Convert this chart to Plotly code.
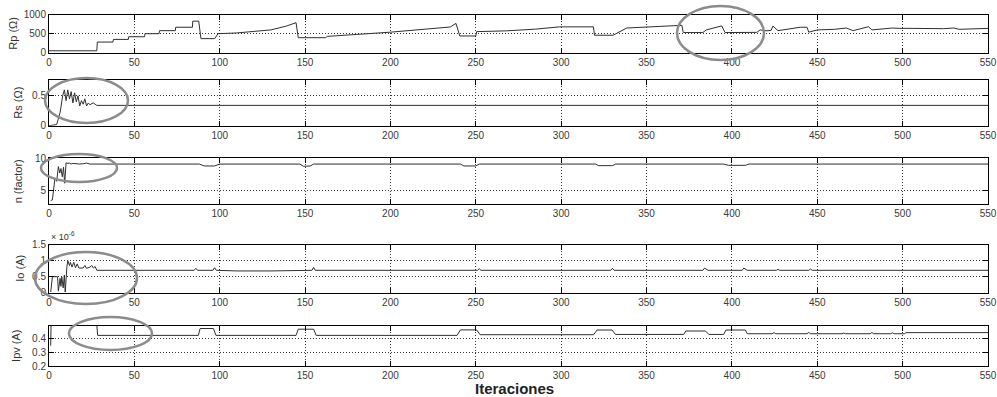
import plotly.graph_objects as go

W, H = 997, 397

# ---------------- data (iteration, value) vertices ----------------
rp_iter = [0, 28, 28.3, 37.5, 37.7, 46.5, 46.7, 56, 56.2, 64.5, 64.7, 74, 74.2, 84, 84.2, 87.7, 89, 97, 99,
           110, 120, 130, 139, 144.7, 146, 162, 163, 175, 182, 190, 200, 213, 225, 235, 238.4, 240.6, 250,
           250.5, 268, 285, 299, 318.9, 319.5, 330.4, 338.4, 364, 370.7, 371.5, 383, 385, 394, 396, 414.6,
           416.5, 420.5, 423, 424, 427, 440, 444, 445, 450, 460, 467, 471, 480, 482, 494, 498, 506, 524,
           530, 533, 550]
rp_vals = [50, 50, 280, 280, 350, 350, 420, 420, 500, 500, 580, 580, 670, 670, 830, 830, 370, 370, 500,
           520, 560, 600, 700, 790, 395, 395, 430, 460, 475, 510, 540, 590, 630, 676, 770, 440, 440,
           555, 575, 620, 680, 680, 460, 460, 650, 715, 720, 530, 530, 600, 705, 530, 535,
           600, 575, 590, 700, 580, 670, 670, 540, 600, 615, 650, 580, 684, 600, 650, 640, 640, 632,
           650, 615, 640]

rs_iter = [0, 4.5, 6.5, 8, 9, 10, 11, 12, 13, 14, 15, 16, 17, 18, 19, 20, 21, 22, 23, 24, 25, 26, 27, 28, 550]
rs_vals = [0, 0.02, 0.22, 0.5, 0.6, 0.42, 0.6, 0.45, 0.57, 0.38, 0.55, 0.4, 0.5, 0.33, 0.42, 0.36, 0.45,
           0.33, 0.38, 0.35, 0.37, 0.38, 0.36, 0.34, 0.34]

n_iter = [1, 2, 3.5, 4.5, 5.5, 6.3, 7, 7.8, 8.5, 9.2, 10, 11, 12, 13, 14, 15, 16, 18, 20, 22, 24, 28,
          88, 91, 97, 100, 147, 149, 153, 155, 241, 243, 250, 252, 320, 322, 330, 332, 395, 398, 408,
          410, 550]
n_vals = [3.5, 3.6, 7.0, 6.5, 8.8, 7.8, 8.5, 7.2, 8.7, 6.2, 9.4, 9.3, 9.35, 9.2, 9.3, 9.25, 9.3, 9.2,
          9.25, 9.35, 9.2, 9.2, 9.2, 8.9, 8.9, 9.2, 9.2, 8.85, 8.9, 9.2, 9.2, 8.9, 8.9, 9.2, 9.2, 8.95,
          8.95, 9.2, 9.2, 9.0, 9.0, 9.2, 9.2]

io_iter = [1, 2, 5, 5.5, 6.5, 7, 7.5, 8.3, 9, 9.5, 10.5, 11, 12, 12.5, 13.5, 14.5, 15.5, 16.5, 17.5, 19,
           20, 21, 22, 24, 25, 26, 27, 28, 85, 86, 87, 96, 97, 98, 110, 130, 150, 154, 155, 156, 251,
           252, 253, 329, 330, 331, 383, 384, 386, 406, 407, 409, 426, 427, 428, 445, 446, 447, 550]
io_vals = [0.02, 0.5, 0.5, 0.05, 0.45, 0.2, 0.5, 0.15, 0.55, 0.02, 0.82, 1.0, 0.85, 0.95, 0.8, 0.95,
           0.78, 0.9, 0.77, 0.78, 0.77, 0.85, 0.76, 0.8, 0.85, 0.77, 0.82, 0.7, 0.7, 0.76, 0.7, 0.7,
           0.78, 0.7, 0.68, 0.68, 0.69, 0.7, 0.79, 0.7, 0.7, 0.75, 0.7, 0.7, 0.76, 0.7, 0.7, 0.77, 0.7,
           0.7, 0.77, 0.7, 0.7, 0.73, 0.7, 0.7, 0.74, 0.7, 0.7]  # x 1e-6

ipv_iter = [1, 1.2, 28, 28.5, 87.5, 88.5, 96.3, 97.8, 144.7, 146, 155, 156.5, 239, 241, 250.5, 252.5,
            319, 321, 329.8, 331.8, 371.8, 373, 384.5, 386.5, 395.2, 396.5, 407.9, 409, 423.5, 424.6,
            425.7, 444, 445, 446, 464.5, 465.5, 466.5, 481, 482, 483, 493, 494, 495, 501, 502, 550]
ipv_vals = [0.35, 0.5, 0.5, 0.425, 0.425, 0.475, 0.475, 0.425, 0.425, 0.47, 0.47, 0.425, 0.425,
            0.465, 0.465, 0.43, 0.43, 0.464, 0.464, 0.432, 0.432, 0.457, 0.457, 0.432, 0.432, 0.464,
            0.464, 0.437, 0.437, 0.445, 0.437, 0.437, 0.447, 0.437, 0.437, 0.442, 0.437, 0.437, 0.446,
            0.437, 0.437, 0.444, 0.437, 0.437, 0.445, 0.445]

x_ticks = [0, 50, 100, 150, 200, 250, 300, 350, 400, 450, 500, 550]
y_labels = ["Rp (\u03a9)", "Rs (\u03a9)", "n (factor)", "Io (A)", "Ipv (A)"]
y_ranges = [[0, 1000], [0, 0.77], [2.9, 10.1], [0, 1.5], [0.2, 0.497]]
y_ticks = [[0, 500, 1000], [0, 0.5], [5, 10], [0, 0.5, 1, 1.5], [0.2, 0.3, 0.4]]
y_ticktext = [["0", "500", "1000"], ["0", "0.5"], ["5", "10"], ["0", "0.5", "1", "1.5"], ["0.2", "0.3", "0.4"]]
x_label = "Iteraciones"

series = [(rp_iter, rp_vals), (rs_iter, rs_vals), (n_iter, n_vals), (io_iter, io_vals), (ipv_iter, ipv_vals)]

# ---------------- layout geometry (pixels) ----------------
PX_L, PX_R = 49, 988
panels_px = [(14.7, 52.7), (79.7, 125.7), (158.3, 204.3), (244.7, 292.7), (325.5, 366.3)]
ylab_x = [13, 18, 18, 20, 16]

def px(xp):
    return xp / W

def py(yp):
    return 1 - yp / H

FONT = "Liberation Sans, Arial, sans-serif"
tick_font = dict(family=FONT, size=10, color="#3a3a3a")

fig = go.Figure()
layout = dict(
    width=W, height=H, template="none",
    margin=dict(l=0, r=0, t=0, b=0),
    paper_bgcolor="white", plot_bgcolor="white",
    showlegend=False,
)

annotations = []
for i, ((xs, ys), (top, bot)) in enumerate(zip(series, panels_px)):
    k = "" if i == 0 else str(i + 1)
    fig.add_trace(go.Scatter(x=xs, y=ys, mode="lines", line=dict(color="#2f2f2f", width=1),
                             xaxis="x" + k, yaxis="y" + k, hoverinfo="skip"))
    common = dict(showline=True, linecolor="black", linewidth=1, mirror="ticks",
                  ticks="inside", ticklen=5, tickcolor="black",
                  showgrid=True, gridcolor="#3a3a3a", griddash="1px,2px", gridwidth=1,
                  zeroline=False, automargin=False, tickfont=tick_font)
    layout["xaxis" + k] = dict(domain=[px(PX_L), px(PX_R)], anchor="y" + k, range=[0, 550],
                               tickmode="array", tickvals=x_ticks, ticktext=[str(t) for t in x_ticks],
                               **common)
    layout["yaxis" + k] = dict(domain=[py(bot), py(top)], anchor="x" + k, range=y_ranges[i],
                               tickmode="array", tickvals=y_ticks[i], ticktext=y_ticktext[i],
                               **common)
    annotations.append(dict(xref="paper", yref="paper", x=px(ylab_x[i]), y=py((top + bot) / 2),
                            text=y_labels[i], textangle=-90, showarrow=False,
                            xanchor="center", yanchor="middle",
                            font=dict(family=FONT, size=11, color="#333333")))

annotations.append(dict(xref="paper", yref="paper", x=px(49), y=py(236), text="\u00d7 10<sup>-6</sup>",
                        showarrow=False, xanchor="left", yanchor="middle",
                        font=dict(family=FONT, size=9, color="#333333")))
annotations.append(dict(xref="paper", yref="paper", x=px(514), y=py(388), text="<b>" + x_label + "</b>",
                        showarrow=False, xanchor="center", yanchor="middle",
                        font=dict(family=FONT, size=15, color="#222222")))
layout["annotations"] = annotations

# highlight ellipses (pixel boxes)
ellipses_px = [(677, 6, 764, 60), (45, 78, 128, 123), (41, 154, 117, 182), (35, 252, 137, 304),
               (69, 317, 152, 350)]
layout["shapes"] = [dict(type="circle", xref="paper", yref="paper",
                         x0=px(a), x1=px(c), y0=py(d), y1=py(b),
                         line=dict(color="#8c8c8c", width=2.5)) for a, b, c, d in ellipses_px]

fig.update_layout(**layout)
fig.write_html("out.html")
